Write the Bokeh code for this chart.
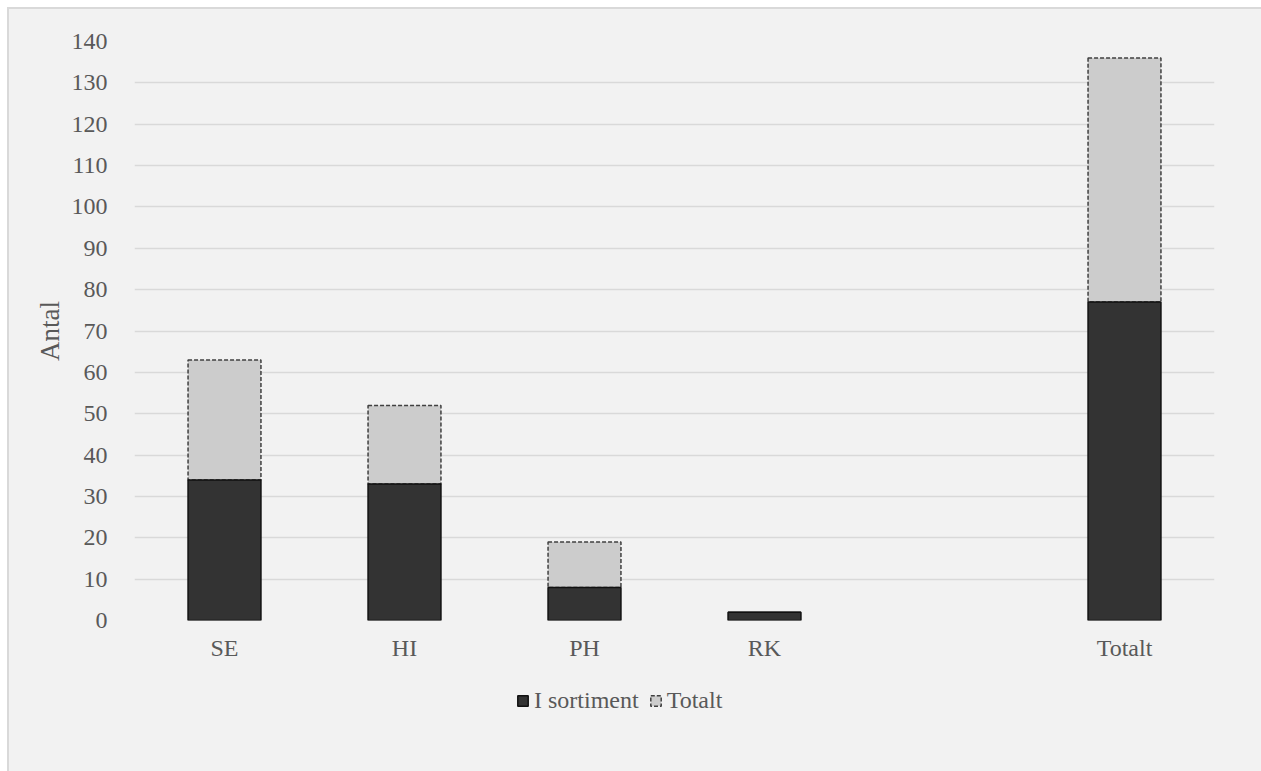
from bokeh.plotting import figure
from bokeh.layouts import column
from bokeh.models import FactorRange, Range1d, Legend, LegendItem, FixedTicker, ColumnDataSource
from bokeh.embed import file_html
from bokeh.resources import INLINE

categories = ["SE", "HI", "PH", "RK", " ", "Totalt"]
bar_cats = ["SE", "HI", "PH", "RK", "Totalt"]
i_sortiment = [34, 33, 8, 2, 77]
totalt = [63, 52, 19, 2, 136]
y_ticks = list(range(0, 150, 10))
series_names = ["I sortiment", "Totalt"]

FONT = "Liberation Serif"
TXT = "#595959"
BG = "#f2f2f2"
DARK = dict(fill_color="#333333", line_color="#111111", line_width=1.5)
LIGHT = dict(fill_color="#cccccc", line_color="#404040", line_width=1.5, line_dash="4 2")

p = figure(x_range=FactorRange(*categories, range_padding=0), y_range=Range1d(0, 140),
           width=1252, height=671, output_backend="svg", toolbar_location=None,
           min_border_left=125, min_border_right=47, min_border_top=32, min_border_bottom=60)
p.background_fill_color = BG
p.border_fill_color = BG
p.outline_line_color = None

src = ColumnDataSource(dict(x=bar_cats, low=i_sortiment, top=totalt))
p.vbar(x="x", bottom="low", top="top", width=0.405, source=src, **LIGHT)
p.vbar(x="x", bottom=0, top="low", width=0.405, source=src, **DARK)

p.xgrid.grid_line_color = None
p.ygrid.grid_line_color = "#d9d9d9"
p.ygrid.grid_line_width = 1.5
p.ygrid.level = "underlay"

p.yaxis.ticker = FixedTicker(ticks=y_ticks)
for ax in (p.xaxis[0], p.yaxis[0]):
    ax.axis_line_color = None
    ax.major_tick_line_color = None
    ax.minor_tick_line_color = None
    ax.major_label_text_font = FONT
    ax.major_label_text_color = TXT
    ax.major_label_text_font_size = "24px"
p.yaxis.major_label_standoff = 21
p.yaxis.axis_label = "Antal"
p.yaxis.axis_label_text_font = FONT
p.yaxis.axis_label_text_color = TXT
p.yaxis.axis_label_text_font_size = "27px"
p.yaxis.axis_label_text_font_style = "normal"
p.yaxis.axis_label_standoff = 4
p.xaxis.major_label_standoff = 8

# legend strip (renderers hidden; only their legend swatches are drawn)
lf = figure(width=1252, height=91, x_range=FactorRange(*categories, range_padding=0),
            y_range=Range1d(0, 140), x_axis_type=None, y_axis_type=None,
            output_backend="svg", toolbar_location=None,
            min_border_left=125, min_border_right=47, min_border_top=0, min_border_bottom=0)
lf.background_fill_color = BG
lf.border_fill_color = BG
lf.outline_line_color = None
lf.grid.visible = False
d_in = lf.vbar(x="x", bottom=0, top="low", width=0.405, source=src, visible=False, **DARK)
d_tot = lf.vbar(x="x", bottom="low", top="top", width=0.405, source=src, visible=False, **LIGHT)

legend = Legend(items=[LegendItem(label=series_names[0], renderers=[d_in]),
                       LegendItem(label=series_names[1], renderers=[d_tot])],
                orientation="horizontal", location=(382, 57),
                background_fill_alpha=0, border_line_color=None,
                inactive_fill_alpha=0,
                label_text_font=FONT, label_text_color=TXT, label_text_font_size="24px",
                glyph_width=13, glyph_height=13, label_standoff=5, spacing=10,
                padding=0, margin=0)
lf.add_layout(legend, "center")

layout = column(p, lf, spacing=0,
                styles={"margin-left": "7px", "margin-top": "7px", "background-color": BG,
                        "border-left": "2px solid #d9d9d9", "border-top": "2px solid #d9d9d9"})

open("out.html", "w").write(file_html(layout, INLINE))
